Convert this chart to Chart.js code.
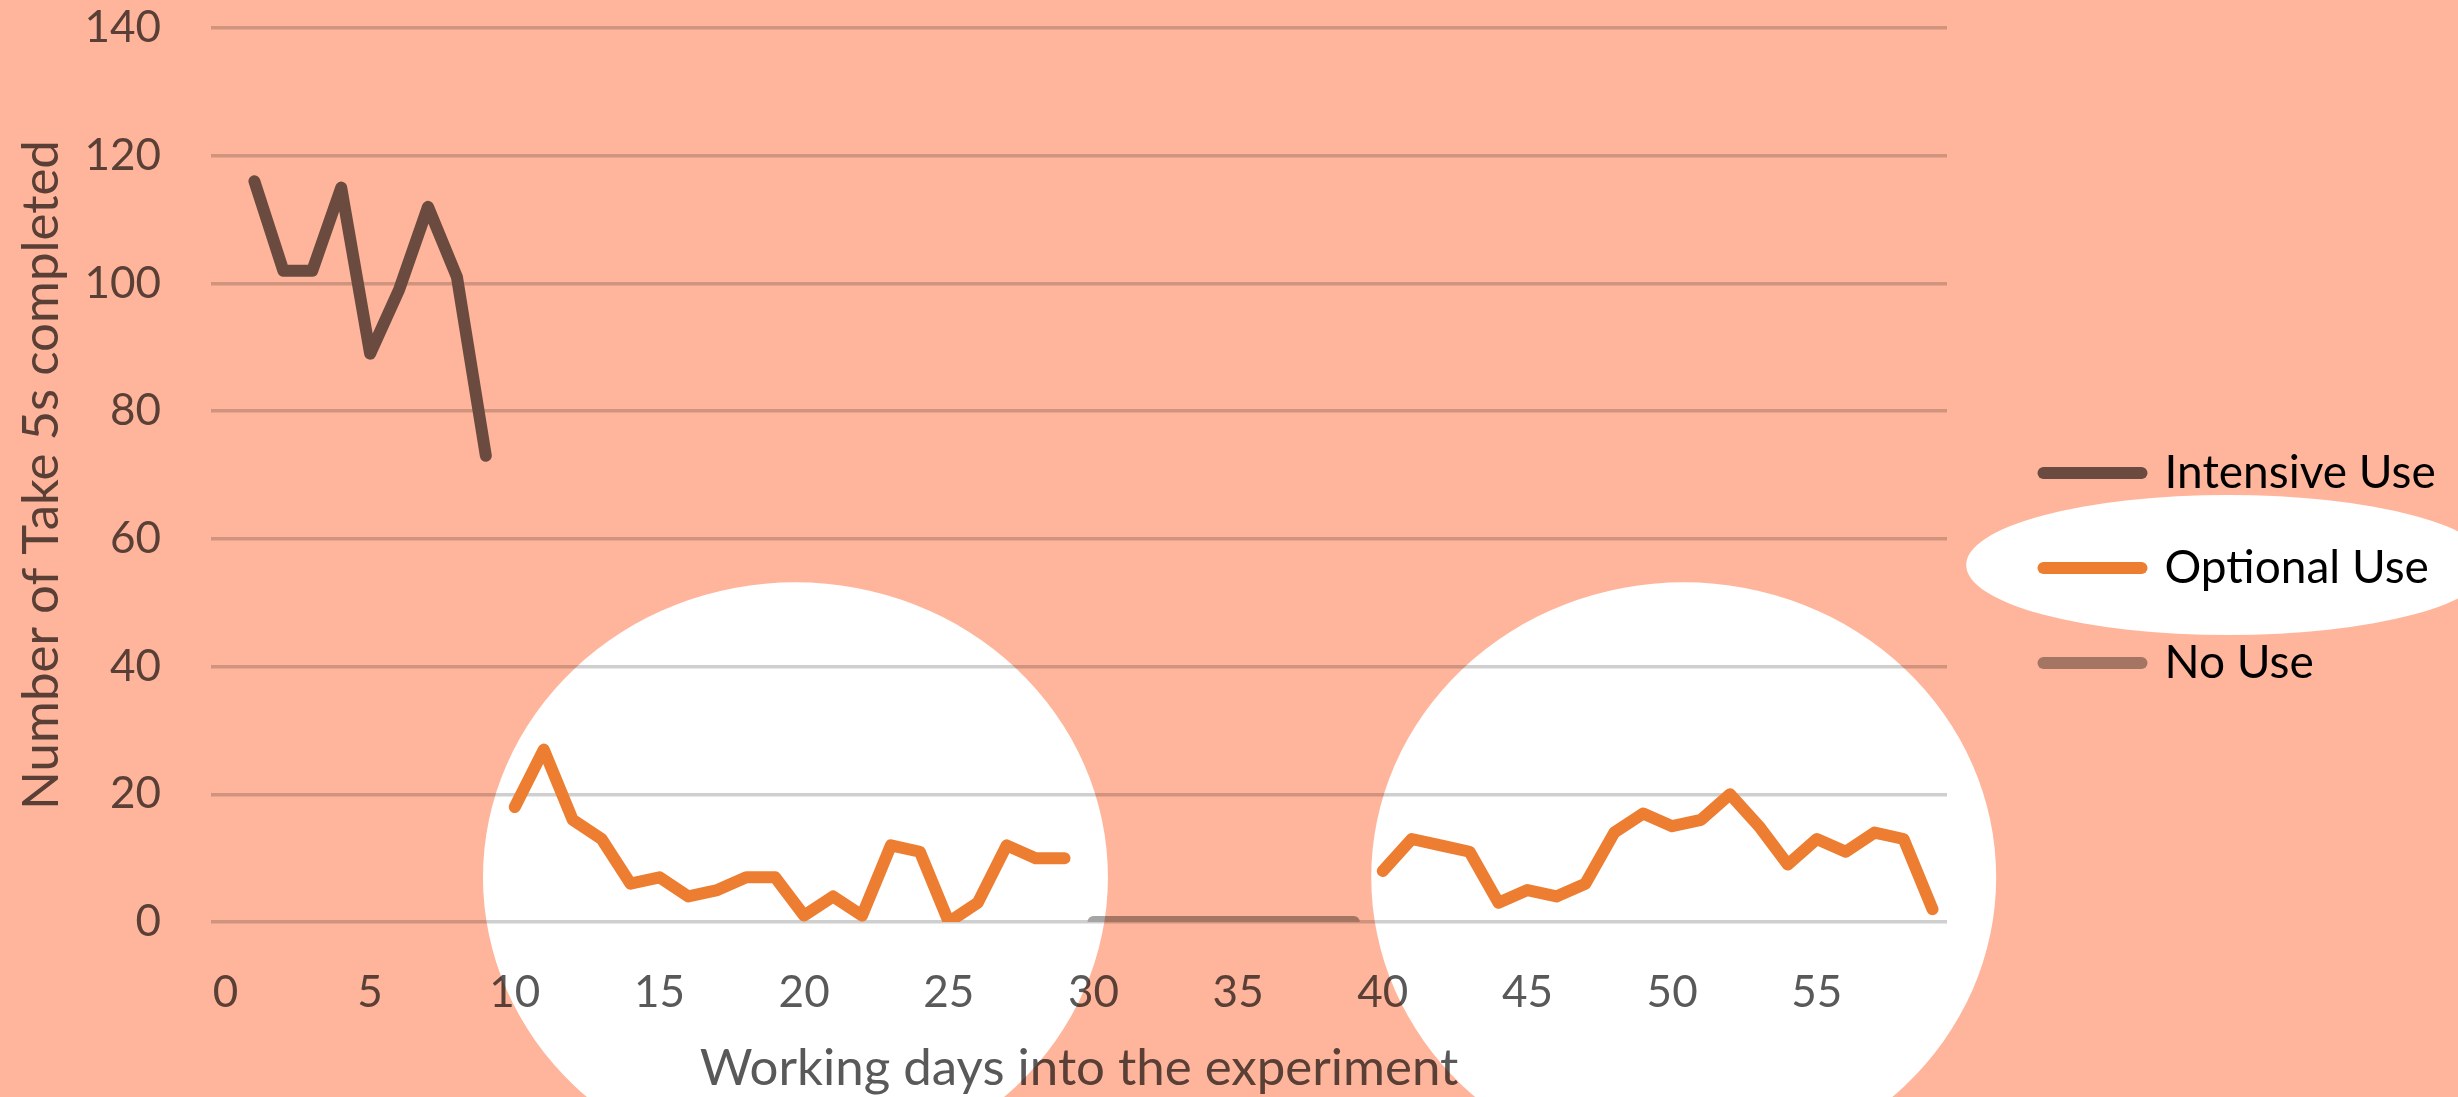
<!DOCTYPE html>
<html>
<head>
<meta charset="utf-8">
<title>Take 5s completed per working day</title>
<script src="https://cdn.jsdelivr.net/npm/chart.js@4.4.1/dist/chart.umd.min.js"></script>
<style>
  html, body { margin: 0; padding: 0; background: #ffffff; }
  #wrap { position: relative; width: 2458px; height: 1097px; }
</style>
</head>
<body>
<div id="wrap"><canvas id="chart"></canvas></div>
<script>
// Working days into the experiment (category axis)
const days = [
   0,  1,  2,  3,  4,  5,  6,  7,  8,  9,
  10, 11, 12, 13, 14, 15, 16, 17, 18, 19,
  20, 21, 22, 23, 24, 25, 26, 27, 28, 29,
  30, 31, 32, 33, 34, 35, 36, 37, 38, 39,
  40, 41, 42, 43, 44, 45, 46, 47, 48, 49,
  50, 51, 52, 53, 54, 55, 56, 57, 58, 59
];

// Number of Take 5s completed on each day, per condition (null = condition not running)
const intensiveUse = [
  null, 116, 102, 102, 115,  89,  99, 112, 101,  73,
  null, null, null, null, null, null, null, null, null, null,
  null, null, null, null, null, null, null, null, null, null,
  null, null, null, null, null, null, null, null, null, null,
  null, null, null, null, null, null, null, null, null, null,
  null, null, null, null, null, null, null, null, null, null
];
const optionalUse = [
  null, null, null, null, null, null, null, null, null, null,
    18,   27,   16,   13,    6,    7,    4,    5,    7,    7,
     1,    4,    1,   12,   11,    0,    3,   12,   10,   10,
  null, null, null, null, null, null, null, null, null, null,
     8,   13,   12,   11,    3,    5,    4,    6,   14,   17,
    15,   16,   20,   15,    9,   13,   11,   14,   13,    2
];
const noUse = [
  null, null, null, null, null, null, null, null, null, null,
  null, null, null, null, null, null, null, null, null, null,
  null, null, null, null, null, null, null, null, null, null,
     0,    0,    0,    0,    0,    0,    0,    0,    0,    0,
  null, null, null, null, null, null, null, null, null, null,
  null, null, null, null, null, null, null, null, null, null
];

const seriesNames = ['Intensive Use', 'Optional Use', 'No Use'];
const xTickValues = [0, 5, 10, 15, 20, 25, 30, 35, 40, 45, 50, 55];
const yTickValues = [0, 20, 40, 60, 80, 100, 120, 140];

// Appearance
const FONT = 'Lato, "Open Sans", "Noto Sans", sans-serif';
const TEXT = '#595959';
const GRID = '#cfcfcf';
const TINT = '#ffb59b';
const COLORS = ['#6b6a67', '#ed7d31', '#a5a5a5'];
const LINE_W = 12;

// Legend column geometry
const LEGEND_COLUMN_W = 511;
const LEGEND_ITEM_X = 2043.5;
const LEGEND_FIRST_ROW_Y = 473;
const LEGEND_FONT = 46;
const LEGEND_GAP = 49;

// Spotlights that are left untinted (plot ones in data units)
const plotSpotlights = [
  { day: 19.7, count: 7, halfDays: 10.8, halfCount: 46.2 },
  { day: 50.4, count: 7, halfDays: 10.8, halfCount: 46.2 }
];
const legendSpotlight = { item: 1, dx: -8, dy: -3, rx: 262, ry: 70 };

// Keeps the legend column a fixed width and places its rows
const legendPlacement = {
  id: 'legendPlacement',
  beforeLayout(chart) {
    const lg = chart.legend;
    if (lg && !lg.__fixedWidth) {
      const fit = lg.fit;
      lg.fit = function () { fit.call(this); this.width = LEGEND_COLUMN_W; };
      lg.__fixedWidth = true;
    }
  },
  afterLayout(chart) {
    const lg = chart.legend;
    const dx = LEGEND_ITEM_X - (lg.left + LEGEND_GAP);
    const dy = LEGEND_FIRST_ROW_Y - (lg.top + LEGEND_GAP + LEGEND_FONT / 2);
    lg.left += dx; lg.right += dx;
    lg.top += dy; lg.bottom += dy;
  }
};

// White page, then a salmon multiply tint everywhere except the spotlights
const tint = {
  id: 'tint',
  beforeDraw(chart) {
    const { ctx, width, height } = chart;
    ctx.save();
    ctx.fillStyle = '#ffffff';
    ctx.fillRect(0, 0, width, height);
    ctx.restore();
  },
  afterDraw(chart) {
    const { ctx, width, height } = chart;
    const xs = chart.scales.x, ys = chart.scales.y;
    ctx.save();
    ctx.beginPath();
    ctx.rect(0, 0, width, height);
    for (const s of plotSpotlights) {
      const cx = xs.getPixelForValue(s.day);
      const cy = ys.getPixelForValue(s.count);
      const rx = Math.abs(xs.getPixelForValue(s.day + s.halfDays) - cx);
      const ry = Math.abs(ys.getPixelForValue(s.count + s.halfCount) - cy);
      ctx.moveTo(cx + rx, cy);
      ctx.ellipse(cx, cy, rx, ry, 0, 0, Math.PI * 2);
    }
    const hb = chart.legend && chart.legend.legendHitBoxes && chart.legend.legendHitBoxes[legendSpotlight.item];
    if (hb) {
      const cx = hb.left + hb.width / 2 + legendSpotlight.dx;
      const cy = hb.top + hb.height / 2 + legendSpotlight.dy;
      ctx.moveTo(cx + legendSpotlight.rx, cy);
      ctx.ellipse(cx, cy, legendSpotlight.rx, legendSpotlight.ry, 0, 0, Math.PI * 2);
    }
    ctx.globalCompositeOperation = 'multiply';
    ctx.fillStyle = TINT;
    ctx.fill('evenodd');
    ctx.restore();
  }
};

const seriesValues = [intensiveUse, optionalUse, noUse];

new Chart(document.getElementById('chart'), {
  type: 'line',
  data: {
    labels: days,
    datasets: seriesNames.map((name, i) => ({
      label: name,
      data: seriesValues[i],
      borderColor: COLORS[i],
      backgroundColor: COLORS[i],
      borderWidth: LINE_W,
      borderCapStyle: 'round',
      borderJoinStyle: 'round',
      pointRadius: 0,
      pointHoverRadius: 0,
      spanGaps: false,
      tension: 0
    }))
  },
  options: {
    responsive: true,
    maintainAspectRatio: false,
    animation: false,
    events: [],
    layout: { padding: { top: 28, right: 0, bottom: 0, left: 0 } },
    scales: {
      x: {
        type: 'linear',
        min: -0.5,
        max: 59.5,
        afterBuildTicks: s => { s.ticks = xTickValues.map(v => ({ value: v })); },
        afterFit: s => { s.height = 175; },
        grid: { display: false },
        border: { display: false },
        ticks: {
          color: TEXT,
          font: { family: FONT, size: 44 },
          padding: 36,
          maxRotation: 0,
          autoSkip: false
        },
        title: {
          display: true,
          text: 'Working days into the experiment',
          color: TEXT,
          font: { family: FONT, size: 51, lineHeight: 1 },
          padding: { top: 0, bottom: 3 }
        }
      },
      y: {
        min: 0,
        max: 140,
        afterBuildTicks: s => { s.ticks = yTickValues.map(v => ({ value: v })); },
        afterFit: s => { s.width = 211; },
        grid: {
          color: GRID,
          lineWidth: 3.5,
          drawTicks: true,
          tickLength: 50,
          tickColor: 'rgba(0,0,0,0)'
        },
        border: { display: false },
        ticks: {
          color: TEXT,
          font: { family: FONT, size: 44 },
          padding: 0
        },
        title: {
          display: true,
          text: 'Number of Take 5s completed',
          color: TEXT,
          font: { family: FONT, size: 51, lineHeight: 1 },
          padding: { top: 16, bottom: 0 }
        }
      }
    },
    plugins: {
      title: { display: false },
      tooltip: { enabled: false },
      legend: {
        display: true,
        position: 'right',
        align: 'start',
        labels: {
          color: TEXT,
          font: { family: FONT, size: LEGEND_FONT },
          padding: LEGEND_GAP,
          usePointStyle: true,
          pointStyleWidth: 98,
          boxWidth: 98,
          boxHeight: 12,
          generateLabels: chart => chart.data.datasets.map((ds, i) => ({
            text: ds.label,
            fillStyle: ds.borderColor,
            strokeStyle: ds.borderColor,
            lineWidth: 12,
            lineCap: 'round',
            pointStyle: 'line',
            hidden: false,
            datasetIndex: i
          }))
        }
      }
    }
  },
  plugins: [legendPlacement, tint]
});
</script>
</body>
</html>
